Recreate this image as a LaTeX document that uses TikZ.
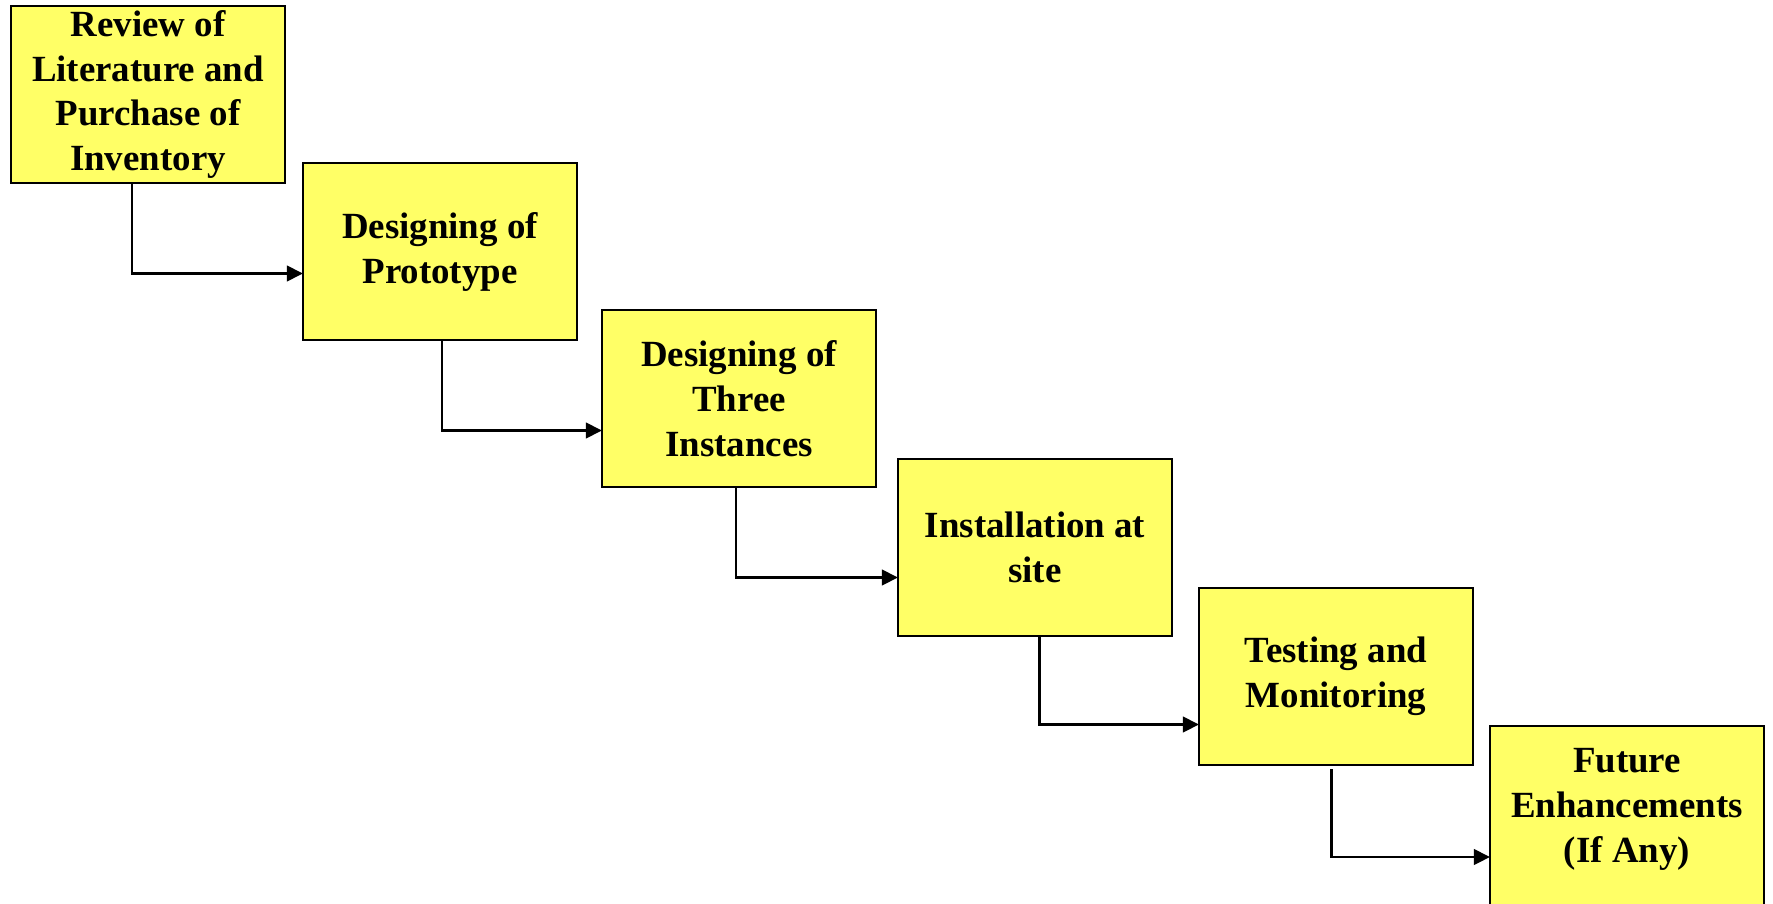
\documentclass[tikz,border=0pt]{standalone}
\usepackage{fontspec}
\setmainfont{Liberation Serif}
\usetikzlibrary{arrows.meta,positioning}
\definecolor{boxyellow}{RGB}{255,255,102}

\begin{document}
\begin{tikzpicture}[% styles for all the steps and the links between them
		every node/.style={
			align=center,		% so that "\\" breaks the line
			font=\fontsize{10.5}{12.8}\selectfont\bfseries
		},
		stage/.style={rectangle,draw=black,line width=0.7pt,fill=boxyellow,
			minimum width=2.74cm,minimum height=1.77cm,inner sep=0pt,outer sep=0pt},
		flow/.style={draw,line width=0.8pt,-{Triangle[length=4.6pt,width=4.4pt]}}
	]
	\useasboundingbox (0,0) rectangle (17.73,-9.04);
	\node[stage](S1) at (1.48,-0.945){Review of\\Literature and\\Purchase of\\Inventory};
	\node[stage](S2)[below right=-0.20cm and 0.18cm of S1]{Designing of\\Prototype};
	\node[stage](S3)[below right=-0.30cm and 0.25cm of S2]{Designing of\\Three\\Instances};
	\node[stage](S4)[below right=-0.28cm and 0.22cm of S3]{Installation at\\site};
	\node[stage](S5)[below right=-0.48cm and 0.27cm of S4]{Testing and\\Monitoring};
	% last step runs off the bottom of the page
	\node[stage,minimum height=1.95cm](S6)[below right=-0.39cm and 0.17cm of S5]{Future\\Enhancements\\(If Any)\\[-2.5pt]\mbox{}};
	\path[flow]
		([xshift=-0.16cm]S1.south) |- ([yshift=-0.22cm]S2.west);
	\path[flow]
		([xshift=0.02cm]S2.south) |- ([yshift=-0.32cm]S3.west);
	\path[flow]
		([xshift=-0.03cm]S3.south) |- ([yshift=-0.30cm]S4.west);
	\path[flow]
		([xshift=0.045cm]S4.south) |- ([yshift=-0.48cm]S5.west);
	\path[flow]
		([xshift=-0.045cm,yshift=-0.04cm]S5.south) |- ([yshift=-0.335cm]S6.west);
\end{tikzpicture}
\end{document}
